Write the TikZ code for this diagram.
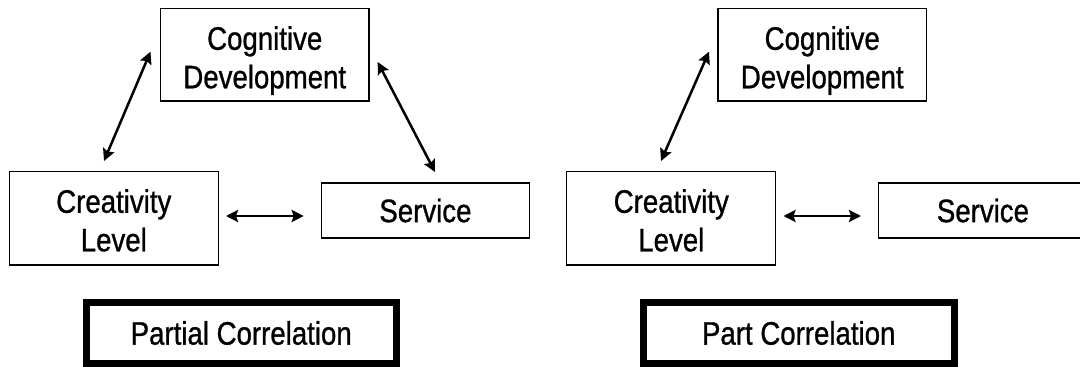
\documentclass[tikz,border=0pt]{standalone}
\usepackage{fontspec}
\setmainfont[FakeStretch=0.85,FakeBold=0.9]{Liberation Sans}
\usetikzlibrary{arrows.meta}
\tikzset{
  box/.style={draw=black, line width=1.3pt, inner sep=0pt, rectangle},
  thickbox/.style={draw=black, line width=7pt, inner sep=0pt, rectangle, font=\fontsize{32.5}{38.5}\selectfont},
  txt/.style={font=\fontsize{32.5}{38.5}\selectfont, align=center, inner sep=0pt},
  arr/.style={{Stealth[length=12pt,width=12pt,inset=2pt]}-{Stealth[length=12pt,width=12pt,inset=2pt]}, line width=2.5pt}
}
\begin{document}
\begin{tikzpicture}[x=1pt,y=-1pt]
\useasboundingbox (0,0) rectangle (1080,367);
\clip (0,0) rectangle (1080,367);
% ---------- left half ----------
\node[box, minimum width=208.5, minimum height=92.7] (cogL) at (264.75,54.6) {};
\node[txt] (cogLt) at (264.75,60.6) {Cognitive\\Development};
\node[box, minimum width=209, minimum height=93.3] (creL) at (113.8,218.3) {};
\node[txt] (creLt) at (113.8,220.4) {Creativity\\Level};
\node[box, txt, minimum width=208.3, minimum height=55] (serL) at (425.45,210.5) {Service};
\node[thickbox, minimum width=310.5, minimum height=61] (titL) at (241.25,333) {Partial Correlation};
\coordinate (a1s) at (150.5,51.7);
\coordinate (a1e) at (104,161);
\coordinate (a2s) at (377.7,62);
\coordinate (a2e) at (435,172);
\coordinate (a3s) at (226,216);
\coordinate (a3e) at (303.7,216);
\draw[arr] (a1s) -- (a1e);
\draw[arr] (a2s) -- (a2e);
\draw[arr] (a3s) -- (a3e);
% ---------- right half ----------
\begin{scope}[xshift=557.5pt]
\node[box, minimum width=208.5, minimum height=92.7] (cogR) at (264.75,54.6) {};
\node[txt] (cogRt) at (264.75,60.6) {Cognitive\\Development};
\node[box, minimum width=209, minimum height=93.3] (creR) at (113.8,218.3) {};
\node[txt] (creRt) at (113.8,220.4) {Creativity\\Level};
\node[box, txt, minimum width=208.3, minimum height=55] (serR) at (425.45,210.5) {Service};
\node[thickbox, minimum width=310.5, minimum height=61] (titR) at (241.25,333) {Part Correlation};
\coordinate (b1s) at (151.5,51.7);
\coordinate (b1e) at (103.5,161);
\coordinate (b3s) at (226,216);
\coordinate (b3e) at (303.5,216);
\draw[arr] (b1s) -- (b1e);
\draw[arr] (b3s) -- (b3e);
\end{scope}
\end{tikzpicture}
\end{document}
